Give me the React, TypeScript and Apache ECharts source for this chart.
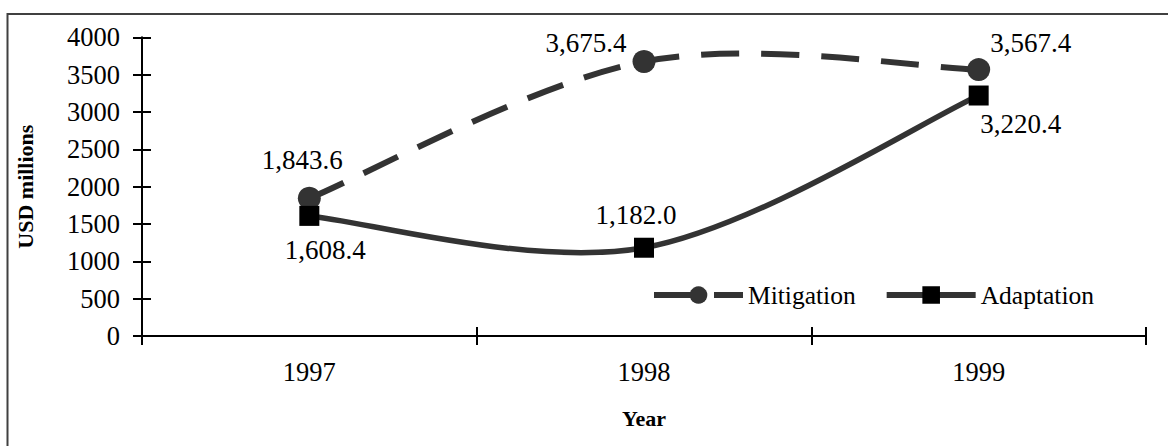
import React, { useEffect, useRef } from "react";
import * as echarts from "echarts";

// Climate finance by purpose, USD millions
const years = ["1997", "1998", "1999"];
const mitigation = [1843.6, 3675.4, 3567.4];
const adaptation = [1608.4, 1182.0, 3220.4];
const yMin = 0;
const yMax = 4000;
const yStep = 500;

// Where each value label sits relative to its marker
const mitigationLabelOffsets = [
  [-7, -38],
  [-58, -19],
  [52, -27],
];
const adaptationLabelOffsets = [
  [16, 34],
  [-8, -33],
  [42, 28],
];

const SERIF = "'Liberation Serif', 'Times New Roman', serif";
const LINE_GREY = "#333";
const MITIGATION_DASH = [38, 22];

const fmt = (v: number) =>
  v.toLocaleString("en-US", { minimumFractionDigits: 1, maximumFractionDigits: 1 });

// Cardinal (Catmull-Rom) spline through pixel points, as a single SVG path string
function splinePath(pts: number[][]): string {
  if (pts.length === 0) return "";
  let d = `M${pts[0][0]},${pts[0][1]}`;
  for (let i = 0; i < pts.length - 1; i++) {
    const p0 = pts[Math.max(i - 1, 0)];
    const p1 = pts[i];
    const p2 = pts[i + 1];
    const p3 = pts[Math.min(i + 2, pts.length - 1)];
    const c1x = p1[0] + (p2[0] - p0[0]) / 6;
    const c1y = p1[1] + (p2[1] - p0[1]) / 6;
    const c2x = p2[0] - (p3[0] - p1[0]) / 6;
    const c2y = p2[1] - (p3[1] - p1[1]) / 6;
    d += ` C${c1x},${c1y} ${c2x},${c2y} ${p2[0]},${p2[1]}`;
  }
  return d;
}

function curveSeries(values: number[], width: number, dash: number[] | null) {
  return {
    type: "custom",
    silent: true,
    z: 1,
    data: [0],
    renderItem: (_params: any, api: any) => {
      const pts = values.map((v, i) => api.coord([i, v]));
      return {
        type: "path",
        shape: { pathData: splinePath(pts) },
        style: {
          fill: "none",
          stroke: LINE_GREY,
          lineWidth: width,
          lineDash: dash || undefined,
          lineCap: "butt",
        },
      };
    },
  };
}

export default function App() {
  const ref = useRef<HTMLDivElement>(null);

  useEffect(() => {
    if (!ref.current) return;
    const chart = echarts.init(ref.current, undefined, { renderer: "svg" });

    const labelBase = {
      show: true,
      position: "inside" as const,
      align: "center" as const,
      verticalAlign: "middle" as const,
      fontFamily: SERIF,
      fontSize: 27,
      color: "#000",
      formatter: (p: any) => fmt(p.value),
    };

    chart.setOption({
      animation: false,
      backgroundColor: "#fff",
      textStyle: { fontFamily: SERIF },
      grid: { left: 142, right: 22, top: 37.3, bottom: 110 },
      graphic: [
        {
          type: "rect",
          shape: { x: 7.5, y: 14, width: 1300, height: 600 },
          style: { fill: "none", stroke: "#404040", lineWidth: 2 },
          silent: true,
          z: -10,
        },
      ],
      legend: {
        left: 646,
        top: 277,
        itemWidth: 89,
        itemHeight: 22,
        itemGap: 28,
        textStyle: { fontFamily: SERIF, fontSize: 25.5, color: "#000" },
        data: [
          {
            name: "Mitigation",
            lineStyle: { width: 6, color: LINE_GREY, opacity: 1, type: MITIGATION_DASH },
          },
          {
            name: "Adaptation",
            lineStyle: { width: 6, color: LINE_GREY, opacity: 1, type: "solid" },
          },
        ],
      },
      xAxis: [
        {
          type: "category",
          data: years,
          boundaryGap: true,
          name: "Year",
          nameLocation: "middle",
          nameGap: 71,
          nameTextStyle: { fontFamily: SERIF, fontSize: 22, fontWeight: "bold", color: "#000" },
          axisLine: { lineStyle: { color: "#000", width: 2 } },
          axisTick: { show: true, length: 9, lineStyle: { color: "#000", width: 2 } },
          axisLabel: { fontFamily: SERIF, fontSize: 26.5, color: "#000", margin: 22 },
          splitLine: { show: false },
        },
        {
          type: "category",
          data: years,
          boundaryGap: true,
          position: "bottom",
          offset: 0,
          axisLine: { show: false },
          axisTick: { show: true, inside: true, length: 9, lineStyle: { color: "#000", width: 2 } },
          axisLabel: { show: false },
          splitLine: { show: false },
        },
      ],
      yAxis: [
        {
          type: "value",
          min: yMin,
          max: yMax,
          interval: yStep,
          name: "USD millions",
          nameLocation: "middle",
          nameGap: 106,
          nameRotate: 90,
          nameTextStyle: { fontFamily: SERIF, fontSize: 22, fontWeight: "bold", color: "#000" },
          axisLine: { show: true, lineStyle: { color: "#000", width: 2 } },
          axisTick: { show: true, length: 9, lineStyle: { color: "#000", width: 2 } },
          axisLabel: {
            fontFamily: SERIF,
            fontSize: 26.5,
            color: "#000",
            margin: 22,
            formatter: (v: number) => String(v),
          },
          splitLine: { show: false },
        },
        {
          type: "value",
          min: yMin,
          max: yMax,
          interval: yStep,
          position: "left",
          offset: 0,
          axisLine: { show: false },
          axisTick: { show: true, inside: true, length: 9, lineStyle: { color: "#000", width: 2 } },
          axisLabel: { show: false },
          splitLine: { show: false },
        },
      ],
      series: [
        curveSeries(mitigation, 6, MITIGATION_DASH),
        curveSeries(adaptation, 5.5, null),
        {
          name: "Mitigation",
          type: "line",
          z: 3,
          symbol: "circle",
          symbolSize: 23,
          itemStyle: { color: LINE_GREY },
          lineStyle: { color: LINE_GREY, width: 6, opacity: 0 },
          label: labelBase,
          data: mitigation.map((v, i) => ({
            value: v,
            label: { offset: mitigationLabelOffsets[i] },
          })),
        },
        {
          name: "Adaptation",
          type: "line",
          z: 3,
          symbol: "rect",
          symbolSize: 20,
          itemStyle: { color: "#000" },
          lineStyle: { color: LINE_GREY, width: 6, opacity: 0 },
          label: labelBase,
          data: adaptation.map((v, i) => ({
            value: v,
            label: { offset: adaptationLabelOffsets[i] },
          })),
        },
      ],
    });

    return () => chart.dispose();
  }, []);

  return (
    <div
      ref={ref}
      style={{ position: "fixed", left: 0, top: 0, width: 1168, height: 446, background: "#fff" }}
    />
  );
}
